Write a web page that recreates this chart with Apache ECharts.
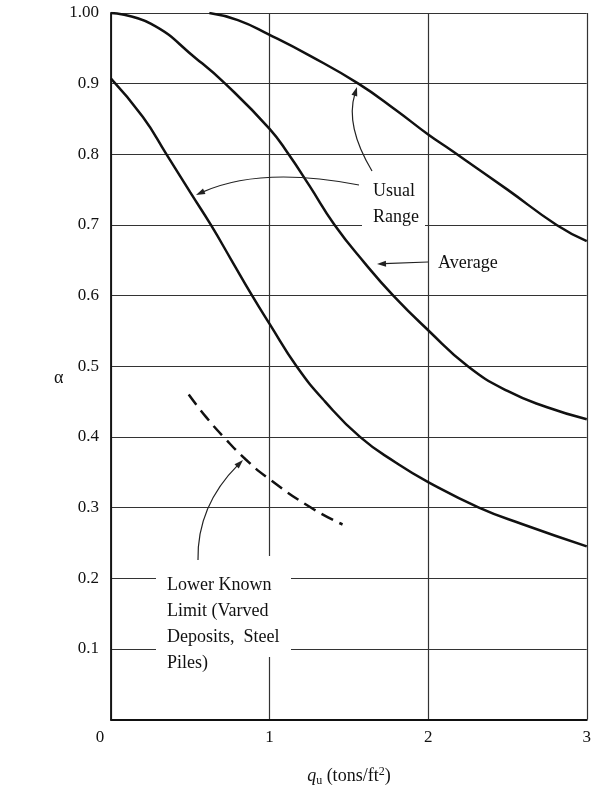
<!DOCTYPE html>
<html><head><meta charset="utf-8">
<script src="https://cdn.jsdelivr.net/npm/echarts@6/dist/echarts.min.js"></script>
<style>html,body{margin:0;padding:0;background:#fff}#c{width:594px;height:792px}</style>
</head><body><div id="c"></div>
<script>
// ---- data ----
const xTickValues = [0, 1, 2, 3];
const yTickValues = [0, 0.1, 0.2, 0.3, 0.4, 0.5, 0.6, 0.7, 0.8, 0.9, 1.0];

const upperQ = [0.62, 0.8, 1.0, 1.25, 1.56, 1.8, 2.0, 2.15, 2.5, 2.81, 3.0];
const upperA = [1.0, 0.99, 0.969, 0.94, 0.9, 0.862, 0.828, 0.805, 0.75, 0.7, 0.677];

const averageQ = [0, 0.25, 0.54, 0.72, 1.0, 1.12, 1.25, 1.41, 1.6, 1.78, 2.0, 2.25, 2.5, 2.75, 3.0];
const averageA = [1.0, 0.985, 0.935, 0.9, 0.836, 0.8, 0.756, 0.7, 0.646, 0.6, 0.551, 0.5, 0.465, 0.442, 0.425];

const lowerQ = [0, 0.2, 0.35, 0.5, 0.63, 0.76, 0.89, 1.0, 1.17, 1.35, 1.57, 1.8, 2.0, 2.32, 2.6, 3.0];
const lowerA = [0.907, 0.853, 0.8, 0.746, 0.7, 0.65, 0.6, 0.56, 0.5, 0.45, 0.4, 0.363, 0.336, 0.3, 0.276, 0.245];

const varvedQ = [0.49, 0.6, 0.71, 0.85, 1.0, 1.26, 1.46];
const varvedA = [0.46, 0.428, 0.4, 0.368, 0.34, 0.3, 0.276];

const labelUsual = 'Usual\nRange';
const labelAverage = 'Average';
const labelLower = 'Lower Known\nLimit (Varved\nDeposits,  Steel\nPiles)';

// ---- build ----
const zip = (a, b) => a.map((v, i) => [v, b[i]]);
const SERIF = '"Liberation Serif", "DejaVu Serif", serif';
const INK = '#111';

function curve(name, q, a, dashed) {
  return {
    name, type: 'line', data: zip(q, a), showSymbol: false, symbol: 'none',
    smooth: 0.5, z: 5,
    lineStyle: { color: INK, width: 2.5, type: dashed ? [13, 7] : 'solid' }
  };
}

function arrow(x1, y1, cx, cy, x2, y2) {
  const dx = x2 - cx, dy = y2 - cy, L = Math.hypot(dx, dy);
  const ux = dx / L, uy = dy / L, len = 9, hw = 3;
  const bx = x2 - ux * len, by = y2 - uy * len;
  return [
    { type: 'bezierCurve', z: 30, shape: { x1, y1, x2: bx + ux * 2, y2: by + uy * 2, cpx1: cx, cpy1: cy },
      style: { stroke: '#222', lineWidth: 1.2, fill: null } },
    { type: 'polygon', z: 31, shape: { points: [[x2, y2], [bx - uy * hw, by + ux * hw], [bx + uy * hw, by - ux * hw]] },
      style: { fill: '#222' } }
  ];
}

function txt(text, x, y) {
  return { type: 'text', z: 30, x, y,
    style: { text, font: '18px ' + SERIF, fill: INK, lineHeight: 26,
      align: 'left', verticalAlign: 'top', textAlign: 'left', textVerticalAlign: 'top' } };
}

const chart = echarts.init(document.getElementById('c'), null, { renderer: 'canvas' });
chart.setOption({
  backgroundColor: '#fff',
  animation: false,
  grid: { left: 111, right: 5, top: 13, bottom: 71, containLabel: false },
  xAxis: {
    type: 'value', min: 0, max: 3, interval: 1,
    name: '{q|q}{sub|u} (tons/ft{sup|2})', nameLocation: 'middle', nameGap: 46,
    nameTextStyle: { fontFamily: SERIF, fontSize: 18, color: INK,
      rich: {
        q: { fontFamily: SERIF, fontSize: 18, fontStyle: 'italic', color: INK },
        sub: { fontFamily: SERIF, fontSize: 12, color: INK, padding: [9, 0, 0, 0] },
        sup: { fontFamily: SERIF, fontSize: 12, color: INK, padding: [0, 0, 10, 0] }
      } },
    axisLine: { show: true, lineStyle: { color: INK, width: 2 } },
    axisTick: { show: false },
    splitLine: { show: true, lineStyle: { color: '#333', width: 1.2 } },
    axisLabel: { fontFamily: SERIF, fontSize: 17, color: INK, margin: 10,
      formatter: v => v === 0 ? '{z|0}' : String(v),
      rich: { z: { fontFamily: SERIF, fontSize: 17, color: INK, padding: [0, 22, 0, 0] } } }
  },
  yAxis: {
    type: 'value', min: 0, max: 1, interval: 0.1,
    name: 'α', nameLocation: 'middle', nameRotate: 0, nameGap: 42,
    nameTextStyle: { fontFamily: SERIF, fontSize: 18, color: INK, verticalAlign: 'top', lineHeight: 24 },
    axisLine: { show: true, lineStyle: { color: INK, width: 1.8 } },
    axisTick: { show: false },
    splitLine: { show: true, lineStyle: { color: '#333', width: 1.2 } },
    axisLabel: { fontFamily: SERIF, fontSize: 17, color: INK, margin: 12,
      formatter: v => v === 0 ? '' : (v === 1 ? '1.00' : v.toFixed(1)) }
  },
  series: [
    curve('Usual range (upper)', upperQ, upperA, false),
    curve('Average', averageQ, averageA, false),
    curve('Usual range (lower)', lowerQ, lowerA, false),
    curve('Lower known limit', varvedQ, varvedA, true)
  ],
  graphic: {
    elements: [
      // white knock-outs where the gridlines are interrupted by the annotation text
      { type: 'rect', z: 20, shape: { x: 156, y: 556, width: 135, height: 101 }, style: { fill: '#fff' } },
      { type: 'rect', z: 20, shape: { x: 362, y: 208, width: 63, height: 24 }, style: { fill: '#fff' } },
      txt(labelUsual, 373, 178),
      txt(labelAverage, 438, 250),
      txt(labelLower, 167, 572),
      ...arrow(359, 185, 261, 166, 196, 195),
      ...arrow(372, 171, 345, 126, 357, 87),
      ...arrow(428, 262, 402, 263, 377, 264),
      ...arrow(198, 560, 197, 506, 243, 460)
    ]
  }
});
</script>
</body></html>
